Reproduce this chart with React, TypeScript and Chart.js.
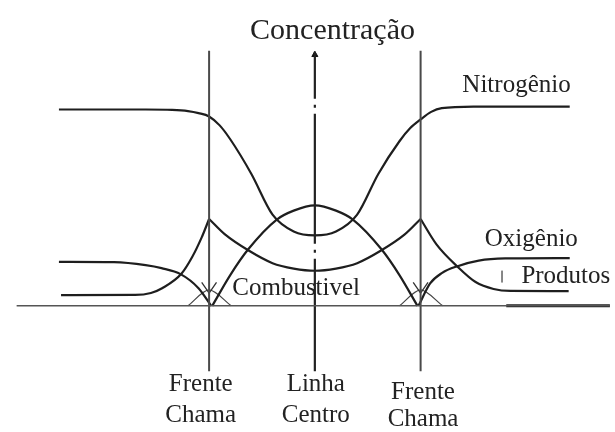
import { useEffect, useRef } from "react";
import { Chart, registerables } from "chart.js";

Chart.register(...registerables);

// Radial position (flame fronts at ±1, centre line at 0) and relative concentration.
const nitrogenX = [-2.42, -1.6, -1.35, -1.2, -1.1, -1.0, -0.9, -0.8, -0.6, -0.4, -0.2, 0, 0.2, 0.4, 0.6, 0.8, 0.9, 1.0, 1.1, 1.2, 1.5, 2.41];
const nitrogenY = [0.99, 0.99, 0.988, 0.982, 0.972, 0.955, 0.91, 0.84, 0.665, 0.46, 0.375, 0.355, 0.375, 0.46, 0.665, 0.83, 0.895, 0.94, 0.978, 0.997, 1.005, 1.005];

const fuelX = [-0.97, -0.8, -0.63, -0.36, -0.2, 0, 0.2, 0.36, 0.63, 0.8, 0.97];
const fuelY = [0, 0.155, 0.285, 0.435, 0.48, 0.507, 0.48, 0.435, 0.285, 0.155, 0];

const productsInnerX = [-1.0, -0.85, -0.63, -0.4, -0.2, 0, 0.2, 0.4, 0.63, 0.85, 1.0];
const productsInnerY = [0.438, 0.36, 0.28, 0.215, 0.188, 0.177, 0.188, 0.215, 0.28, 0.36, 0.438];
const productsLeftX = [-2.4, -1.7, -1.55, -1.44, -1.26, -1.16, -1.07, -1.0];
const productsLeftY = [0.054, 0.055, 0.065, 0.09, 0.163, 0.246, 0.345, 0.438];
const productsRightX = [1.0, 1.15, 1.35, 1.52, 1.69, 1.85, 2.4];
const productsRightY = [0.438, 0.31, 0.197, 0.12, 0.085, 0.075, 0.074];

const oxygenLeftX = [-2.42, -1.9, -1.6, -1.45, -1.27, -1.1, -0.98];
const oxygenLeftY = [0.222, 0.22, 0.205, 0.19, 0.16, 0.089, 0];
const oxygenRightX = [0.98, 1.09, 1.2, 1.35, 1.55, 1.8, 2.41];
const oxygenRightY = [0, 0.113, 0.165, 0.2, 0.228, 0.239, 0.241];

// Reference lines: flame fronts and centre line
const frontPositions = [-1.0, 1.0];
const centrePosition = 0;
const guideTop = 1.286;
const guideBottom = -0.33;
const axisFrom = -2.82;
const axisTo = 2.79;
const axisHeavyFrom = 1.81;

// Reaction-zone overlap marks around each flame front (offset from the front)
const vMarkDX = [-0.07, 0, 0.07];
const vMarkY = [0.118, 0.064, 0.118];
const archDX = [-0.2, 0, 0.21];
const archY = [0, 0.08, 0];

const titleText = "Concentração";
const speciesNames = ["Nitrogênio", "Oxigênio", "Produtos", "Combustivel"];
const guideNames = [["Frente", "Chama"], ["Linha", "Centro"], ["Frente", "Chama"]];

const INK = "#1e1e1e";
const GUIDE = "#4a4a4a";
const TEXT = "#222";
const SERIF = '"Liberation Serif", "Times New Roman", serif';

const pts = (xs: number[], ys: number[]) => xs.map((x, i) => ({ x, y: ys[i] }));

type Label = { text: string; x: number; y: number; size: number; align: CanvasTextAlign };

const labels: Label[] = [
  { text: titleText, x: 0.167, y: 1.345, size: 30, align: "center" },
  { text: speciesNames[0], x: 1.907, y: 1.079, size: 25, align: "center" },
  { text: speciesNames[1], x: 2.047, y: 0.3, size: 25, align: "center" },
  { text: speciesNames[2], x: 1.953, y: 0.113, size: 25, align: "left" },
  { text: speciesNames[3], x: -0.781, y: 0.054, size: 25, align: "left" },
  { text: guideNames[0][0], x: -1.079, y: -0.429, size: 25, align: "center" },
  { text: guideNames[0][1], x: -1.079, y: -0.586, size: 25, align: "center" },
  { text: guideNames[1][0], x: 0.009, y: -0.429, size: 25, align: "center" },
  { text: guideNames[1][1], x: 0.009, y: -0.586, size: 25, align: "center" },
  { text: guideNames[2][0], x: 1.023, y: -0.468, size: 25, align: "center" },
  { text: guideNames[2][1], x: 1.023, y: -0.606, size: 25, align: "center" },
];

const labelPlugin = {
  id: "diagramLabels",
  afterDatasetsDraw(chart: any) {
    const { ctx, scales } = chart;
    ctx.save();
    ctx.fillStyle = TEXT;
    ctx.textBaseline = "alphabetic";
    for (const l of labels) {
      ctx.font = `${l.size}px ${SERIF}`;
      ctx.textAlign = l.align;
      ctx.fillText(l.text, scales.x.getPixelForValue(l.x), scales.y.getPixelForValue(l.y));
    }
    ctx.restore();
  },
};

const curve = (data: { x: number; y: number }[]) => ({
  data,
  showLine: true,
  borderColor: INK,
  borderWidth: 2.2,
  pointRadius: 0,
  cubicInterpolationMode: "monotone" as const,
  fill: false,
});

const straight = (
  data: { x: number; y: number }[],
  color: string,
  width: number,
  dash: number[] = [],
  dashOffset = 0
) => ({
  data,
  showLine: true,
  borderColor: color,
  borderWidth: width,
  borderDash: dash,
  borderDashOffset: dashOffset,
  pointRadius: 0,
  tension: 0,
  fill: false,
});

export default function App() {
  const canvasRef = useRef<HTMLCanvasElement | null>(null);

  useEffect(() => {
    if (!canvasRef.current) return;

    const datasets: any[] = [
      straight([{ x: axisFrom, y: 0 }, { x: axisTo, y: 0 }], "#555", 1.5),
      straight([{ x: axisHeavyFrom, y: 0 }, { x: axisTo, y: 0 }], INK, 3),
      ...frontPositions.map((fx) =>
        straight([{ x: fx, y: guideTop }, { x: fx, y: guideBottom }], GUIDE, 2)
      ),
      // centre line: long dash, dot (drawn top to bottom)
      straight(
        [{ x: centrePosition, y: guideTop - 0.005 }, { x: centrePosition, y: guideBottom }],
        "#222",
        2.2,
        [130, 6, 3, 6],
        83
      ),
      {
        data: [{ x: centrePosition, y: guideTop - 0.02 }],
        showLine: false,
        pointStyle: "triangle",
        pointRadius: 3.5,
        backgroundColor: "#111",
        borderColor: "#111",
        borderWidth: 1,
      },
      curve(pts(nitrogenX, nitrogenY)),
      curve(pts(fuelX, fuelY)),
      curve(pts(productsInnerX, productsInnerY)),
      curve(pts(productsLeftX, productsLeftY)),
      curve(pts(productsRightX, productsRightY)),
      curve(pts(oxygenLeftX, oxygenLeftY)),
      curve(pts(oxygenRightX, oxygenRightY)),
      ...frontPositions.flatMap((fx) => [
        straight(pts(vMarkDX.map((d) => fx + d), vMarkY), "#333", 1.3),
        { ...straight(pts(archDX.map((d) => fx + d), archY), "#444", 1.2), tension: 0.3 },
      ]),
      straight([{ x: 1.77, y: 0.177 }, { x: 1.77, y: 0.118 }], "#777", 1),
    ];

    const chart = new Chart(canvasRef.current, {
      type: "scatter",
      data: { datasets },
      options: {
        animation: false,
        responsive: false,
        maintainAspectRatio: false,
        layout: { padding: 0 },
        plugins: { legend: { display: false }, tooltip: { enabled: false }, title: { display: false } },
        scales: {
          x: { type: "linear", display: false, min: -2.93, max: 2.791 },
          y: { type: "linear", display: false, min: -0.611, max: 1.517 },
        },
      },
      plugins: [labelPlugin],
    });

    return () => chart.destroy();
  }, []);

  return (
    <div style={{ position: "absolute", left: 0, top: 0, width: 615, height: 432, background: "#fff" }}>
      <canvas ref={canvasRef} width={615} height={432} style={{ display: "block", width: 615, height: 432 }} />
    </div>
  );
}
